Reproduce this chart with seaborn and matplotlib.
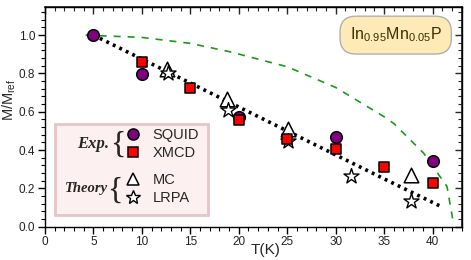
import numpy as np
import pandas as pd
import matplotlib
matplotlib.use("Agg")
import matplotlib.pyplot as plt
from matplotlib.lines import Line2D
from matplotlib.patches import Rectangle
import seaborn as sns

# ---------------- data ----------------
squid_T = [5, 10, 20, 30, 40]
squid_M = [1.0, 0.797, 0.574, 0.466, 0.344]

xmcd_T = [10, 15, 20, 25, 30, 35, 40]
xmcd_M = [0.861, 0.725, 0.557, 0.460, 0.404, 0.313, 0.226]

mc_T = [12.6, 18.8, 25.1, 37.8]
mc_M = [0.825, 0.665, 0.510, 0.272]

lrpa_T = [12.7, 18.9, 25.1, 31.6, 37.8]
lrpa_M = [0.803, 0.609, 0.449, 0.264, 0.134]

fit_T = [5, 10, 15, 20, 25, 30, 35, 41.1]
fit_M = [1.0, 0.875, 0.75, 0.625, 0.50, 0.375, 0.25, 0.10]

mf_T = [4.2, 10, 15, 19.1, 25, 30, 35, 36, 39.1, 41.5, 42.1]
mf_M = [1.0, 0.988, 0.957, 0.913, 0.835, 0.727, 0.574, 0.539, 0.383, 0.209, 0.035]

x_ticks = [0, 5, 10, 15, 20, 25, 30, 35, 40]
y_ticks = [0.0, 0.2, 0.4, 0.6, 0.8, 1.0]

# ---------------- style ----------------
sns.set_theme(style="ticks")
plt.rcParams['font.family'] = ['Liberation Sans', 'DejaVu Sans']
plt.rcParams['mathtext.fontset'] = 'custom'
plt.rcParams['mathtext.rm'] = 'Liberation Sans'
plt.rcParams['mathtext.it'] = 'Liberation Sans:italic'

fig = plt.figure(figsize=(4.71, 2.60), dpi=100)
ax = fig.add_axes([0.0955, 0.128, 0.8845, 0.846])

purple = '#800080'
red = '#ff0000'
green = '#1a9a1a'

sns.lineplot(x=mf_T, y=mf_M, ax=ax, color=green, lw=1.2, linestyle=(0, (4.2, 4.2)), zorder=2)
sns.lineplot(x=fit_T, y=fit_M, ax=ax, color='black', lw=2.6, linestyle=(0, (0.8, 1.2)), zorder=2)

sns.scatterplot(x=mc_T, y=mc_M, ax=ax, marker='^', s=110, facecolor='white', edgecolor='black', linewidth=1.1, zorder=3)
sns.scatterplot(x=lrpa_T, y=lrpa_M, ax=ax, marker='*', s=130, facecolor='white', edgecolor='black', linewidth=1.0, zorder=3)
sns.scatterplot(x=squid_T, y=squid_M, ax=ax, marker='o', s=70, color=purple, edgecolor='black', linewidth=1.1, zorder=4)
sns.scatterplot(x=xmcd_T, y=xmcd_M, ax=ax, marker='s', s=60, color=red, edgecolor='black', linewidth=1.1, zorder=5)

ax.set_xlim(0, 43)
ax.set_ylim(0, 1.148)
ax.set_xticks(x_ticks)
ax.set_xticklabels([str(t) for t in x_ticks])
ax.set_yticks(y_ticks)
ax.set_yticklabels([f"{t:.1f}" for t in y_ticks])
ax.xaxis.set_minor_locator(matplotlib.ticker.MultipleLocator(1))
ax.yaxis.set_minor_locator(matplotlib.ticker.MultipleLocator(0.04))
ax.tick_params(axis='both', which='major', direction='out', length=5, width=1, labelsize=8.5, color='black', labelcolor='#222222', pad=2)
ax.tick_params(axis='both', which='minor', direction='out', length=3, width=0.8, color='black')
for sp in ax.spines.values():
    sp.set_linewidth(1.0)
    sp.set_color('black')

# top / right inward ticks
sec_x = ax.secondary_xaxis('top')
sec_x.set_xticks(x_ticks)
sec_x.xaxis.set_minor_locator(matplotlib.ticker.MultipleLocator(1))
sec_x.tick_params(which='major', direction='in', length=5, width=1, labeltop=False)
sec_x.tick_params(which='minor', direction='in', length=3, width=0.8)
sec_y = ax.secondary_yaxis('right')
sec_y.set_yticks(y_ticks)
sec_y.yaxis.set_minor_locator(matplotlib.ticker.MultipleLocator(0.04))
sec_y.tick_params(which='major', direction='in', length=5, width=1, labelright=False)
sec_y.tick_params(which='minor', direction='in', length=3, width=0.8)

ax.set_ylabel(r'M/M$_{\mathrm{ref}}$', fontsize=10.5)
ax.yaxis.set_label_coords(-0.064, 0.576)
ax.set_xlabel('T(K)', fontsize=11)
ax.xaxis.set_label_coords(0.53, -0.075)

# material label box
ax.text(36.2, 1.0, r'In$_{0.95}$Mn$_{0.05}$P', fontsize=11.5, color='#3a3000',
        ha='center', va='center', zorder=6,
        bbox=dict(boxstyle='round,pad=0.6,rounding_size=1.0', fc='#fdeab6', ec='#b0b0b0', lw=1.0))

# legend panel
ax.add_patch(Rectangle((0.024, 0.053), 0.367, 0.414, transform=ax.transAxes,
                       fc='#fdf0f1', ec='#e6c4c8', lw=2, zorder=6))
ax.text(0.155, 0.378, 'Exp.', transform=ax.transAxes, ha='right', va='center',
        fontsize=12, family='Liberation Serif', weight='bold', style='italic', zorder=7)
ax.text(0.151, 0.176, 'Theory', transform=ax.transAxes, ha='right', va='center',
        fontsize=10.5, family='Liberation Serif', weight='bold', style='italic', zorder=7)
ax.text(0.174, 0.372, '{', transform=ax.transAxes, ha='center', va='center',
        fontsize=23, family='Liberation Serif', zorder=7)
ax.text(0.168, 0.163, '{', transform=ax.transAxes, ha='center', va='center',
        fontsize=23, family='Liberation Serif', zorder=7)

h_exp = [Line2D([], [], marker='o', ls='none', ms=8, mfc=purple, mec='black', mew=1.1),
         Line2D([], [], marker='s', ls='none', ms=7, mfc=red, mec='black', mew=1.1)]
h_th = [Line2D([], [], marker='^', ls='none', ms=9, mfc='white', mec='black', mew=1.1),
        Line2D([], [], marker='*', ls='none', ms=10, mfc='white', mec='black', mew=1.0)]
kw = dict(frameon=False, fontsize=10.5, handlelength=0.95, handletextpad=0.85,
          borderpad=0, borderaxespad=0, labelspacing=0.25, loc='upper left')
leg1 = ax.legend(h_exp, ['SQUID', 'XMCD'], bbox_to_anchor=(0.195, 0.447), **kw)
leg1.set_zorder(8)
ax.add_artist(leg1)
leg2 = ax.legend(h_th, ['MC', 'LRPA'], bbox_to_anchor=(0.195, 0.242), **kw)
leg2.set_zorder(8)

fig.savefig('out.png', dpi=100)
